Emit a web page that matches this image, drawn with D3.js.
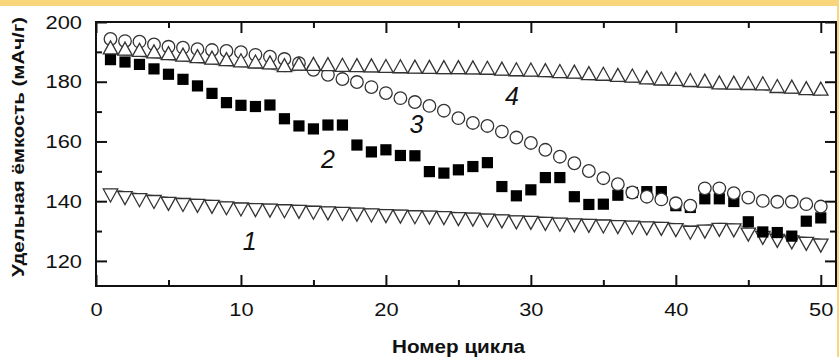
<!DOCTYPE html>
<html><head><meta charset="utf-8">
<script src="https://cdn.jsdelivr.net/npm/d3@7"></script>
<style>html,body{margin:0;padding:0;background:#fff;overflow:hidden}</style>
</head><body>
<svg id="chart" width="839" height="357"></svg>
<script>
// ---- data ----
const cycles = [1,2,3,4,5,6,7,8,9,10,11,12,13,14,15,16,17,18,19,20,21,22,23,24,25,26,27,28,29,30,31,32,33,34,35,36,37,38,39,40,41,42,43,44,45,46,47,48,49,50];
// curve 1 (down triangles), value at the flat top of the marker
const series1 = [144.1,143.2,142.5,141.9,141.3,140.9,140.6,140.3,139.8,139.4,139.2,139.0,138.8,138.6,138.3,138.1,137.9,137.7,137.4,137.2,137.0,136.8,136.7,136.5,136.2,136.0,135.7,135.4,135.1,134.9,134.6,134.3,134.1,133.9,133.7,133.5,133.3,133.1,132.9,132.5,131.6,132.0,132.6,132.4,131.0,129.9,128.9,128.4,127.9,127.3];
// curve 2 (filled squares)
const series2 = [187.4,186.6,185.8,184.3,182.5,180.8,178.6,176.1,173.0,172.1,171.7,172.2,167.6,165.2,164.2,165.5,165.5,158.8,156.5,157.2,155.3,155.2,149.9,149.4,150.5,151.6,152.9,144.9,141.8,143.8,147.9,147.9,141.5,138.9,139.0,142.0,142.9,143.2,143.2,138.5,137.9,140.8,140.8,139.9,133.1,129.7,129.5,128.3,133.3,134.4];
// curve 3 (open circles)
const series3 = [194.3,193.6,193.4,192.5,191.7,191.4,190.9,190.6,190.3,189.9,189.0,188.4,187.6,186.2,184.0,182.3,180.9,179.9,178.2,176.2,174.5,173.2,171.9,170.3,167.8,166.2,165.2,163.3,161.3,159.5,157.2,154.9,152.7,150.1,147.7,145.7,142.9,141.5,140.6,139.3,138.5,144.3,144.3,142.7,141.2,140.1,139.8,139.8,139.0,138.2];
// curve 4 (up triangles), value at the flat base of the marker
const series4 = [189.3,188.9,188.5,188.0,187.4,186.9,186.4,185.9,185.4,185.0,184.6,184.3,183.4,183.9,183.8,183.7,183.5,183.4,183.3,183.1,183.0,182.9,182.8,182.7,182.7,182.6,182.5,182.2,182.0,181.9,181.7,181.4,181.2,180.7,180.5,180.1,179.9,179.3,178.9,178.8,178.4,178.2,177.6,177.5,177.4,177.3,176.4,176.2,175.7,175.5];

const xTicks = [0,10,20,30,40,50];
const xMinorTicks = [5,15,25,35,45];
const yTicks = [120,140,160,180,200];
const yMinorTicks = [130,150,170,190];
const curveLabelText = ["1","2","3","4"];
const curveLabelX = [10.6,16.0,22.1,28.7];
const curveLabelY = [123.7,151.0,162.7,172.2];
const xTitle = "Номер цикла";
const yTitle = "Удельная ёмкость (мАч/г)";

// ---- layout ----
const W = 839, H = 357;
const L = 96, R = 836, T = 22, B = 286;
const svg = d3.select("#chart");

svg.append("rect").attr("width", W).attr("height", H).attr("fill", "#fff");
// highlight border (top & right)
svg.append("rect").attr("x",0).attr("y",0).attr("width",W).attr("height",6).attr("fill","#f9d67c");
svg.append("rect").attr("x",837).attr("y",0).attr("width",2).attr("height",H).attr("fill","#f9d67c");

const x = d3.scaleLinear().domain([0, 51.05]).range([L, R]);
const y = d3.scaleLinear().domain([111.6, 200]).range([B, T]);

const font = "'Liberation Sans', Arial, sans-serif";

// axes
function styleAxis(g){
  g.select(".domain").remove();
  g.selectAll(".tick line").attr("stroke","#111").attr("stroke-width",2);
}
const gxB = svg.append("g").attr("transform",`translate(0,${B})`)
  .call(d3.axisBottom(x).tickValues(xTicks).tickSizeInner(-11).tickSizeOuter(0).tickPadding(17).tickFormat(d3.format("d")));
styleAxis(gxB);
gxB.selectAll("text").attr("font-family",font).attr("font-size",19).attr("fill","#111").attr("transform","scale(1.15,1)");
const gxBm = svg.append("g").attr("transform",`translate(0,${B})`)
  .call(d3.axisBottom(x).tickValues(xMinorTicks).tickSizeInner(-6).tickSizeOuter(0).tickFormat(""));
styleAxis(gxBm);
const gxT = svg.append("g").attr("transform",`translate(0,${T})`)
  .call(d3.axisTop(x).tickValues(xTicks).tickSizeInner(-11).tickSizeOuter(0).tickFormat(""));
styleAxis(gxT);
const gxTm = svg.append("g").attr("transform",`translate(0,${T})`)
  .call(d3.axisTop(x).tickValues(xMinorTicks).tickSizeInner(-6).tickSizeOuter(0).tickFormat(""));
styleAxis(gxTm);

const gyL = svg.append("g").attr("transform",`translate(${L},0)`)
  .call(d3.axisLeft(y).tickValues(yTicks).tickSizeInner(-11).tickSizeOuter(0).tickPadding(12.2).tickFormat(d3.format("d")));
styleAxis(gyL);
gyL.selectAll("text").attr("font-family",font).attr("font-size",19).attr("fill","#111").attr("transform","scale(1.15,1)");
const gyLm = svg.append("g").attr("transform",`translate(${L},0)`)
  .call(d3.axisLeft(y).tickValues(yMinorTicks).tickSizeInner(-6).tickSizeOuter(0).tickFormat(""));
styleAxis(gyLm);
const gyR = svg.append("g").attr("transform",`translate(${R},0)`)
  .call(d3.axisRight(y).tickValues(yTicks).tickSizeInner(-11).tickSizeOuter(0).tickFormat(""));
styleAxis(gyR);
const gyRm = svg.append("g").attr("transform",`translate(${R},0)`)
  .call(d3.axisRight(y).tickValues(yMinorTicks).tickSizeInner(-6).tickSizeOuter(0).tickFormat(""));
styleAxis(gyRm);

// frame
svg.append("rect").attr("x",L).attr("y",T).attr("width",R-L).attr("height",B-T)
  .attr("fill","none").attr("stroke","#111").attr("stroke-width",2);

const plot = svg.append("g");

// connecting lines for curves 1 and 4
const line = d3.line().x((d,i)=>x(cycles[i])).y(d=>y(d));
plot.append("path").datum(series1).attr("d",line).attr("fill","none").attr("stroke","#777").attr("stroke-width",1.1);
plot.append("path").datum(series4).attr("d",line).attr("fill","none").attr("stroke","#777").attr("stroke-width",1.1);

const mkStroke = "#333";
// curve 1: down triangles
plot.append("g").selectAll("path").data(series1).join("path")
  .attr("d",(d,i)=>{const cx=x(cycles[i]), cy=y(d); return `M${cx-7.2},${cy}L${cx+7.2},${cy}L${cx},${cy+13}Z`;})
  .attr("fill","#fff").attr("stroke",mkStroke).attr("stroke-width",1.3);
// curve 2: squares
plot.append("g").selectAll("rect").data(series2).join("rect")
  .attr("x",(d,i)=>x(cycles[i])-5.6).attr("y",d=>y(d)-5.6)
  .attr("width",11.2).attr("height",11.2).attr("fill","#000");
// curve 3: circles
plot.append("g").selectAll("circle").data(series3).join("circle")
  .attr("cx",(d,i)=>x(cycles[i])).attr("cy",d=>y(d)).attr("r",6.3)
  .attr("fill","#fff").attr("stroke",mkStroke).attr("stroke-width",1.3);
// curve 4: up triangles
plot.append("g").selectAll("path").data(series4).join("path")
  .attr("d",(d,i)=>{const cx=x(cycles[i]), cy=y(d); return `M${cx-7.2},${cy}L${cx+7.2},${cy}L${cx},${cy-13}Z`;})
  .attr("fill","#fff").attr("stroke",mkStroke).attr("stroke-width",1.3);

// curve labels
svg.append("g").selectAll("text").data(curveLabelText).join("text")
  .attr("x",(d,i)=>x(curveLabelX[i])).attr("y",(d,i)=>y(curveLabelY[i]))
  .attr("text-anchor","middle").attr("font-family",font).attr("font-style","italic")
  .attr("font-size",25).attr("fill","#111").text(d=>d);

// axis titles
svg.append("text").attr("x",458.5).attr("y",353).attr("text-anchor","middle")
  .attr("font-family",font).attr("font-weight","bold").attr("font-size",18)
  .attr("textLength",133).attr("lengthAdjust","spacingAndGlyphs")
  .attr("fill","#111").text(xTitle);
svg.append("text").attr("transform","translate(24,147) rotate(-90)").attr("text-anchor","middle")
  .attr("font-family",font).attr("font-weight","bold").attr("font-size",17)
  .attr("textLength",260).attr("lengthAdjust","spacingAndGlyphs")
  .attr("fill","#111").text(yTitle);
</script>
</body></html>
